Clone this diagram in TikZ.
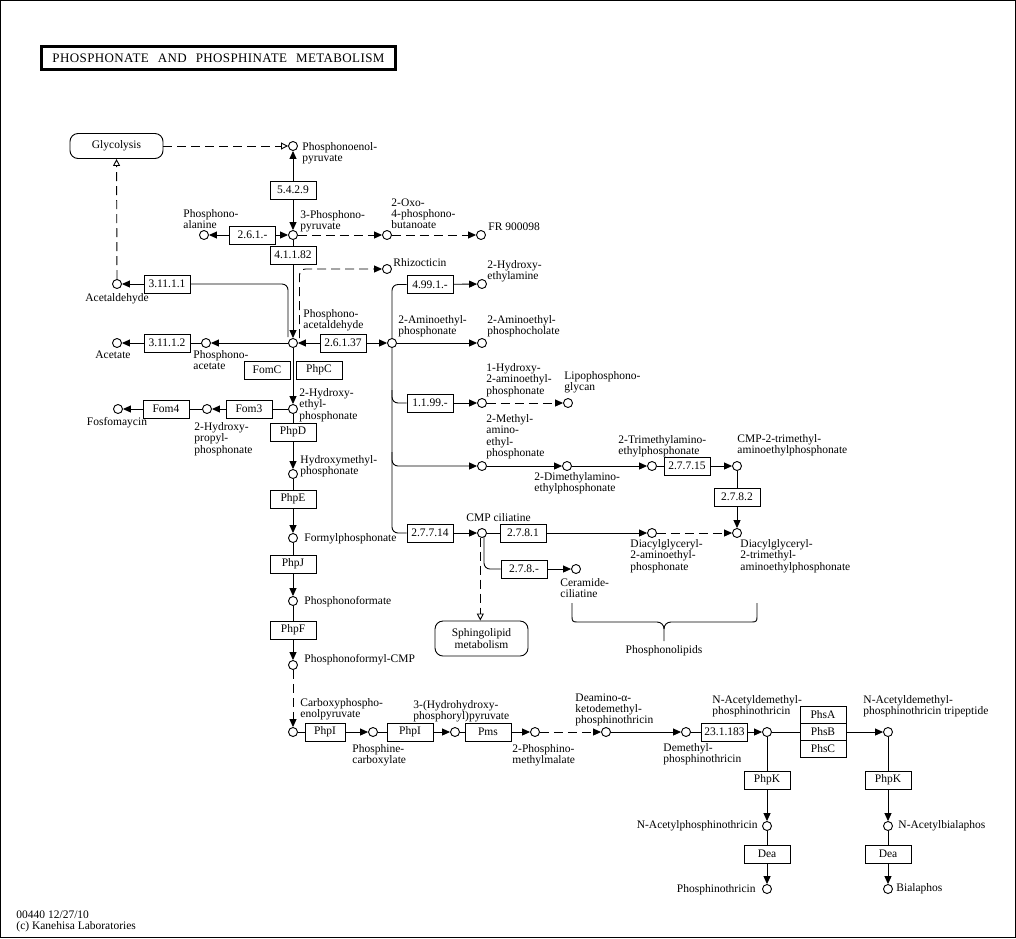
\documentclass[tikz,border=0pt]{standalone}
\usepackage{fontspec}
\setmainfont{Liberation Serif}
\newfontfamily\titlefont[LetterSpace=3.0]{Liberation Serif}
\usetikzlibrary{arrows.meta}
\newcommand{\kgfont}{\fontsize{11.5}{11.3}\selectfont}
\tikzset{
	cpd/.style={circle,draw,fill=white,inner sep=0pt,minimum size=9pt},
	enz/.style={draw,rectangle,inner sep=0pt,minimum width=46pt,minimum height=18pt,font=\kgfont},
	cpdtxt/.style={inner sep=0pt,align=left,font=\kgfont},
	maplink/.style={draw,rounded corners=8pt,inner sep=0pt,minimum width=93pt,align=center,font=\kgfont},
	arr/.style={-{Triangle[length=8pt,width=7pt]}},
	dsh/.style={dash pattern=on 9pt off 5pt},
	linkarr/.style={dsh,-{Triangle[open,length=7pt,width=7pt]}}
}
\newcommand{\cpd}[3]{\node[cpd] (#1) at (#2,#3) {};}
\newcommand{\enz}[4]{\node[enz] (#1) at (#2,#3) {#4};}
\newcommand{\cpdname}[5][north west]{\node[cpdtxt,anchor=#1] (#2) at (#3,#4) {#5};}

\begin{document}
\begin{tikzpicture}[x=1pt,y=-1pt,line width=0.9pt]
	\useasboundingbox (0,0) rectangle (1016,938);
	\draw[line width=1pt] (0.5,0.5) rectangle (1015.5,937.5);
	\node[draw,line width=3pt,minimum width=354pt,minimum height=23pt,inner sep=0pt] (title) at (218.5,58)
		{\titlefont\fontsize{13}{13}\selectfont PHOSPHONATE\hspace{9pt}AND\hspace{9pt}PHOSPHINATE\hspace{9pt}METABOLISM};

	% map links
	\node[maplink,minimum height=25pt] (glyc) at (116.5,146) {Glycolysis};
	\node[maplink,minimum height=35pt] (sphingo) at (481.5,638.5) {Sphingolipid\\metabolism};

	% compounds
	\cpd{pep}{293}{146}   \cpd{ppyr}{293}{235}  \cpd{palan}{204}{235}
	\cpd{oxo}{387}{235}   \cpd{fr}{481}{235}    \cpd{rhiz}{387}{269}
	\cpd{acald}{117}{284} \cpd{pald}{293}{343}  \cpd{pacet}{206}{343}
	\cpd{acet}{117}{343}  \cpd{aep}{392}{343}   \cpd{hea}{482}{284}
	\cpd{aepc}{482}{343}  \cpd{hep}{293}{409}   \cpd{hpp}{207}{409}
	\cpd{fosf}{118}{409}  \cpd{hae}{482}{403}   \cpd{lpg}{568}{403}
	\cpd{hmp}{293}{474}   \cpd{maep}{482}{466}  \cpd{dmaep}{567}{466}
	\cpd{tmaep}{652}{466} \cpd{cmptm}{737}{466} \cpd{cmpc}{482}{533}
	\cpd{dgae}{652}{533}  \cpd{dgtm}{737}{533}  \cpd{fp}{293}{538}
	\cpd{cerc}{576}{569}  \cpd{pf}{293}{601}    \cpd{pfcmp}{293}{665}
	\cpd{cpep}{293}{732}  \cpd{pcarb}{373}{732} \cpd{hhpp}{455}{732}
	\cpd{pmm}{535}{732}   \cpd{deam}{606}{732}  \cpd{dmpt}{686}{732}
	\cpd{nadpt}{767}{732} \cpd{nadtri}{888}{732}
	\cpd{napt}{767}{826}  \cpd{nab}{888}{826}
	\cpd{pt}{767}{889}    \cpd{bial}{888}{889}

	% enzymes
	\enz{e5429}{293}{190}{5.4.2.9}
	\enz{e261}{252.5}{235}{2.6.1.-}
	\enz{e41182}{293}{255}{4.1.1.82}
	\enz{e31111}{167}{284}{3.11.1.1}
	\enz{e31112}{167}{343}{3.11.1.2}
	\enz{e26137}{343}{343}{2.6.1.37}
	\enz{fomc}{267}{370}{FomC}
	\enz{phpc}{319}{370}{PhpC}
	\enz{fom3}{249}{409}{Fom3}
	\enz{fom4}{166}{409}{Fom4}
	\enz{phpd}{293}{432}{PhpD}
	\enz{phpe}{293}{499}{PhpE}
	\enz{phpj}{293}{564}{PhpJ}
	\enz{phpf}{293}{630}{PhpF}
	\enz{e4991}{430}{284.5}{4.99.1.-}
	\enz{e1199}{430}{403}{1.1.99.-}
	\enz{e27715}{687}{466}{2.7.7.15}
	\enz{e2782}{737}{497}{2.7.8.2}
	\enz{e27714}{430}{533}{2.7.7.14}
	\enz{e2781}{523}{533}{2.7.8.1}
	\enz{e278}{524}{569}{2.7.8.-}
	\node[enz,minimum width=40pt] (phpia) at (325,732) {PhpI};
	\enz{phpib}{410}{732}{PhpI}
	\enz{pms}{488}{732}{Pms}
	\enz{e231183}{724.5}{732}{23.1.183}
	\node[enz,minimum height=17pt] (phsa) at (823,715) {PhsA};
	\node[enz,minimum height=17pt] (phsb) at (823,732) {PhsB};
	\node[enz,minimum height=17pt] (phsc) at (823,749) {PhsC};
	\enz{phpka}{767}{780}{PhpK}
	\enz{phpkb}{888}{780}{PhpK}
	\enz{deaa}{767}{854}{Dea}
	\enz{deab}{888}{854}{Dea}

	% compound names
	\cpdname{l_pep}{302}{142}{Phosphonoenol-\\pyruvate}
	\cpdname{l_palan}{183}{209}{Phosphono-\\alanine}
	\cpdname{l_ppyr}{300}{210}{3-Phosphono-\\pyruvate}
	\cpdname{l_oxo}{391}{198}{2-Oxo-\\4-phosphono-\\butanoate}
	\cpdname[west]{l_fr}{488}{227}{FR 900098}
	\cpdname[west]{l_rhiz}{393}{263}{Rhizocticin}
	\cpdname{l_hea}{487}{260}{2-Hydroxy-\\ethylamine}
	\cpdname[north]{l_acald}{117}{293}{Acetaldehyde}
	\cpdname{l_pald}{303}{309}{Phosphono-\\acetaldehyde}
	\cpdname{l_aep}{398}{315}{2-Aminoethyl-\\phosphonate}
	\cpdname{l_aepc}{487}{315}{2-Aminoethyl-\\phosphocholate}
	\cpdname[north]{l_acet}{113}{350}{Acetate}
	\cpdname{l_pacet}{193}{350}{Phosphono-\\acetate}
	\cpdname{l_hep}{299}{388}{2-Hydroxy-\\ethyl-\\phosphonate}
	\cpdname{l_hpp}{194}{422}{2-Hydroxy-\\propyl-\\phosphonate}
	\cpdname[north]{l_fosf}{117}{417}{Fosfomaycin}
	\cpdname{l_hmp}{300}{455}{Hydroxymethyl-\\phosphonate}
	\cpdname[west]{l_fp}{304}{539}{Formylphosphonate}
	\cpdname[west]{l_pf}{304}{602}{Phosphonoformate}
	\cpdname[west]{l_pfcmp}{304}{660}{Phosphonoformyl-CMP}
	\cpdname{l_cpep}{300}{698}{Carboxyphospho-\\enolpyruvate}
	\cpdname{l_hae}{486}{363}{1-Hydroxy-\\2-aminoethyl-\\phosphonate}
	\cpdname{l_lpg}{564}{371}{Lipophosphono-\\glycan}
	\cpdname{l_maep}{486}{414}{2-Methyl-\\amino-\\ethyl-\\phosphonate}
	\cpdname{l_dmaep}{534}{472}{2-Dimethylamino-\\ethylphosphonate}
	\cpdname{l_tmaep}{618}{435}{2-Trimethylamino-\\ethylphosphonate}
	\cpdname{l_cmptm}{737}{434}{CMP-2-trimethyl-\\aminoethylphosphonate}
	\cpdname{l_dgtm}{740}{539}{Diacylglyceryl-\\2-trimethyl-\\aminoethylphosphonate}
	\cpdname{l_cmpc}{466}{513}{CMP ciliatine}
	\cpdname{l_dgae}{630}{539}{Diacylglyceryl-\\2-aminoethyl-\\phosphonate}
	\cpdname{l_cerc}{560}{578}{Ceramide-\\ciliatine}
	\cpdname[north]{l_plip}{664}{645}{Phosphonolipids}
	\cpdname{l_pcarb}{352}{744}{Phosphine-\\carboxylate}
	\cpdname{l_hhpp}{413}{700}{3-(Hydrohydroxy-\\phosphoryl)pyruvate}
	\cpdname{l_pmm}{512}{744}{2-Phosphino-\\methylmalate}
	\cpdname{l_deam}{575}{693}{Deamino-α-\\ketodemethyl-\\phosphinothricin}
	\cpdname{l_dmpt}{663}{743}{Demethyl-\\phosphinothricin}
	\cpdname{l_nadpt}{712}{695}{N-Acetyldemethyl-\\phosphinothricin}
	\cpdname{l_nadtri}{863}{695}{N-Acetyldemethyl-\\phosphinothricin tripeptide}
	\cpdname[east]{l_napt}{758}{826}{N-Acetylphosphinothricin}
	\cpdname[east]{l_pt}{756}{890}{Phosphinothricin}
	\cpdname[west]{l_nab}{898}{826}{N-Acetylbialaphos}
	\cpdname[west]{l_bial}{896}{889}{Bialaphos}
	\cpdname{foot}{16}{910}{00440 12/27/10\\(c) Kanehisa Laboratories}

	% substrate -- enzyme -> product
	\foreach \a/\e/\b in {ppyr/e41182/pald, hep/phpd/hmp, hmp/phpe/fp, fp/phpj/pf, pf/phpf/pfcmp,
		cpep/phpia/pcarb, pcarb/phpib/hhpp, hhpp/pms/pmm, dmpt/e231183/nadpt, nadpt/phsb/nadtri,
		nadpt/phpka/napt, napt/deaa/pt, nadtri/phpkb/nab, nab/deab/bial, pacet/e31112/acet,
		hep/fom3/hpp, hpp/fom4/fosf, tmaep/e27715/cmptm, cmptm/e2782/dgtm, cmpc/e2781/dgae} {
		\draw (\a) -- (\e);
		\draw[arr] (\e) -- (\b);
	}
	% reversible
	\foreach \e/\a/\b in {e5429/pep/ppyr, e261/palan/ppyr, e26137/pald/aep} {
		\draw[arr] (\e) -- (\a);
		\draw[arr] (\e) -- (\b);
	}
	\foreach \a/\b in {pald/pacet, pald/hep, aep/aepc, e4991/hea, e1199/hae, maep/dmaep,
		dmaep/tmaep, e27714/cmpc, e278/cerc, deam/dmpt, e31111/acald}
		\draw[arr] (\a) -- (\b);
	\foreach \a/\b in {ppyr/oxo, oxo/fr, hae/lpg, pmm/deam, pfcmp/cpep, dgae/dgtm}
		\draw[arr,dsh] (\a) -- (\b);

	% branches
	\coordinate (acp) at (288,337);
	\coordinate (rz0) at (299.5,338);
	\coordinate (b1) at (392,390);
	\coordinate (b2) at (392,452);
	\coordinate (b3) at (484,537);
	\draw[rounded corners=6pt] (e31111) -| (acp);
	\draw[arr,dsh,rounded corners=6pt] (rz0) |- (rhiz);
	\draw[rounded corners=6pt] (e4991) -| (aep);
	\draw[rounded corners=6pt] (aep) |- (e27714);
	\draw[rounded corners=6pt] (b1) |- (e1199);
	\draw[arr,rounded corners=6pt] (b2) |- (maep);
	\draw[rounded corners=6pt] (b3) |- (e278);

	% links to other maps
	\draw[linkarr] (glyc) -- (pep);
	\draw[linkarr] (acald) -- (glyc);
	\draw[linkarr] (cmpc.250) -- (cmpc.250 |- sphingo.north);

	% phosphonolipids brace
	\draw (572,603) -- (572,617) .. controls (572,621) and (573,622) .. (577,622) -- (657,622)
		.. controls (661,622) and (664,625) .. (664,629) -- (664,641);
	\draw (757,603) -- (757,617) .. controls (757,621) and (756,622) .. (752,622) -- (671,622)
		.. controls (667,622) and (664,625) .. (664,629);
\end{tikzpicture}
\end{document}
